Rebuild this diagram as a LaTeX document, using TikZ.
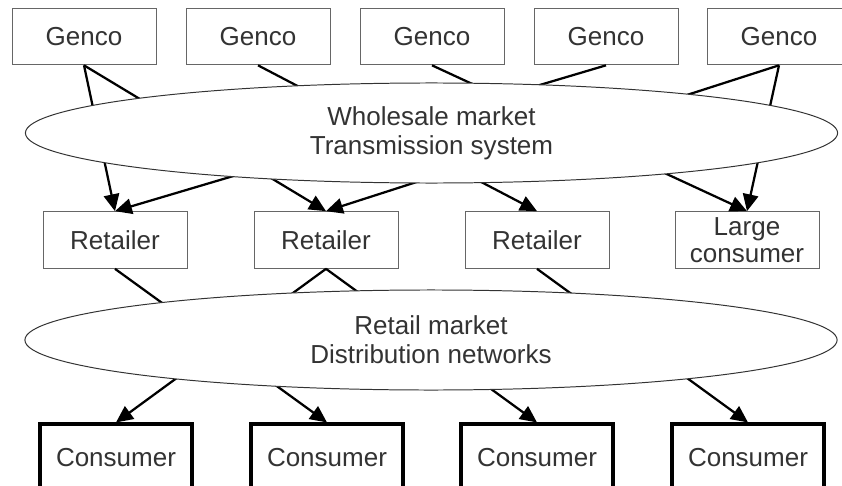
\documentclass[tikz,border=0pt]{standalone}
\usepackage{fontspec}
\setmainfont{Liberation Sans}
\usepackage{tikz}
\usetikzlibrary{arrows.meta, shapes.geometric}

\tikzset{
  box/.style = {draw = gray!80!black, line width = 0.6pt, fill = white,
    minimum width = 3.6cm, minimum height = 1.42cm, inner sep = 0pt,
    align = center, text = black!80, font = \fontsize{18.5}{19}\selectfont},
  consumerbox/.style = {box, draw = black, line width = 2.2pt,
    minimum width = 3.8cm, minimum height = 1.7cm},
  market/.style = {ellipse, draw = black!80, line width = 0.7pt, fill = white,
    minimum width = 20.3cm, minimum height = 2.5cm, inner sep = 0pt,
    align = center, text = black!80, font = \fontsize{18.5}{20.5}\selectfont},
  link/.style = {line width = 1.6pt},
  flow/.style = {link, -{Triangle[length = 12pt, width = 11pt]}}
}

\begin{document}
\begin{tikzpicture}[x = 0.025cm, y = -0.025cm]
\useasboundingbox (0,0) rectangle (842,486);

% generators
\node[box] (g1) at (84,36.5) {Genco};
\node[box] (g2) at (258,36.5) {Genco};
\node[box] (g3) at (432,36.5) {Genco};
\node[box] (g4) at (606,36.5) {Genco};
\node[box] (g5) at (779,36.5) {Genco};

% retailers
\node[box] (r1) at (115,240) {Retailer};
\node[box] (r2) at (326,240) {Retailer};
\node[box] (r3) at (537,240) {Retailer};
\node[box] (lc) at (747,240) {Large\\consumer};

% consumers
\node[consumerbox] (c1) at (116,458) {Consumer};
\node[consumerbox] (c2) at (327,458) {Consumer};
\node[consumerbox] (c3) at (537,458) {Consumer};
\node[consumerbox] (c4) at (748,458) {Consumer};

% wholesale flows
\draw[flow] (g1.south) -- (r1.north);
\draw[flow] (g1.south) -- (r2.north);
\draw[flow] (g2.south) -- (r3.north);
\draw[flow] (g3.south) -- (lc.north);
\draw[flow] (g4.south) -- (r1.north);
\draw[flow] (g5.south) -- (r2.north);
\draw[flow] (g5.south) -- (lc.north);

% retail flows
\draw[flow] (r1.south) -- (c2.north);
\draw[flow] (r2.south) -- (c1.north);
\draw[flow] (r2.south) -- (c3.north);
\draw[flow] (r3.south) -- (c4.north);

% markets on top
\node[market] (wm) at (431.5,133) {Wholesale market\\Transmission system};
\node[market] (rm) at (431,340) {Retail market\\Distribution networks};
\end{tikzpicture}
\end{document}
